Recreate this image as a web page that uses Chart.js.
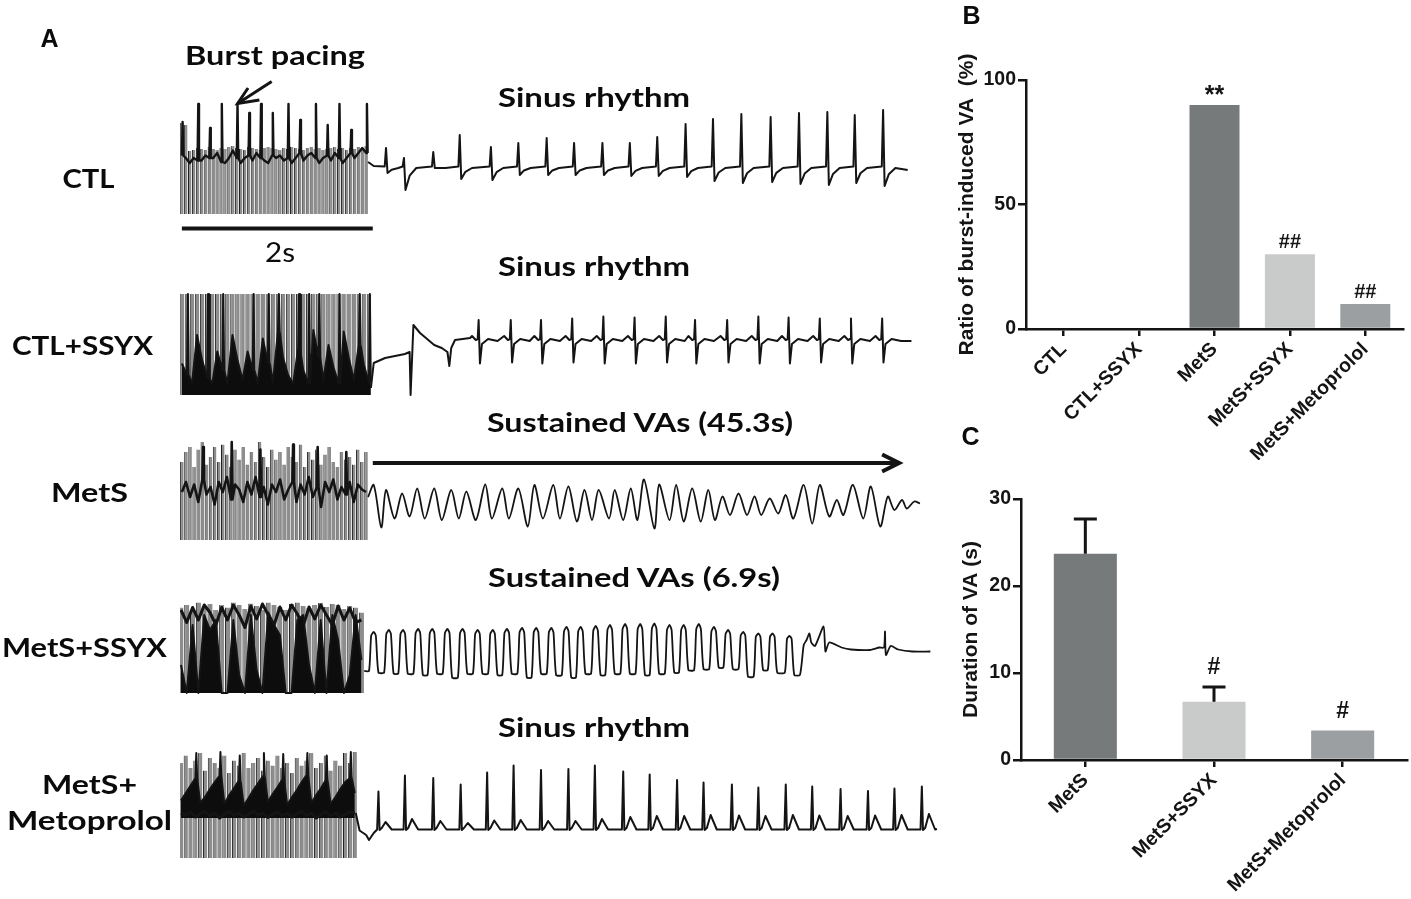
<!DOCTYPE html>
<html><head><meta charset="utf-8">
<script src="https://cdn.jsdelivr.net/npm/chart.js@4.4.1/dist/chart.umd.min.js"></script>
<style>
html,body{margin:0;padding:0;background:#fff;}
#wrap{position:relative;width:1411px;height:899px;overflow:hidden;background:#fff;}
canvas{position:absolute;}
svg{position:absolute;left:0;top:0;}
</style></head><body>
<div id="wrap">
<canvas id="a1"></canvas><canvas id="a2"></canvas><canvas id="a3"></canvas><canvas id="a4"></canvas><canvas id="a5"></canvas>
<canvas id="cb"></canvas><canvas id="cc"></canvas>
<svg id="txt" width="1411" height="899" xmlns="http://www.w3.org/2000/svg"></svg>
</div>
<script>
// ================= DATA =================
// Panel B
const bCats = ["CTL","CTL+SSYX","MetS","MetS+SSYX","MetS+Metoprolol"];
const bVals = [0,0,90,30,10];
const bSig  = ["","","**","##","##"];
// Panel C
const cCats = ["MetS","MetS+SSYX","MetS+Metoprolol"];
const cVals = [23.7,6.7,3.4];
const cErr  = [4.0,1.7,0];
const cSig  = ["","#","#"];

// Panel A: time in s, voltage in arbitrary mV (burst pacing = first 2 s)
// --- CTL ---
const ctlPace = {start:0.02, step:0.0415, bottom:-0.92};
const ctlPaceTops = [0.9,0.86,0.34,0.36,0.4,0.38,0.36,0.42,0.38,0.36,0.4,0.38,0.42,0.44,0.4,0.38,0.36,0.42,0.4,0.38,0.36,0.4,0.42,0.4,0.38,0.36,0.4,0.38,0.42,0.4,0.38,0.36,0.4,0.42,0.38,0.4,0.36,0.38,0.4,0.42,0.38,0.4,0.36,0.4,0.38,0.42,0.4,0.44];
const ctlBlockEcg = [0.25,0.2,0.1,0.2,0.15,0.15,0.25,0.2,0.2,0.3,0.12,0.1,0.2,0.35,0.2,0.1,0.2,0.25,0.15,0.3,0.2,0.15,0.1,0.25,0.2,0.25,0.15,0.2,0.1,0.2,0.3,0.15,0.25,0.3,0.2,0.1,0.2,0.25,0.15,0.3,0.2,0.1,0.2,0.3,0.2,0.3,0.4,0.3];
const ctlBlockSpikes = [[0,0.92],[4,1.28],[7,0.8],[10,1.28],[14,1.28],[17,1.1],[20,1.28],[23,1.1],[27,1.28],[30,0.96],[34,1.28],[37,0.86],[40,1.28],[43,0.76],[47,1.28]];
const ctlBeatT = [2.18,2.37,2.68,2.96,3.29,3.58,3.88,4.17,4.47,4.76,5.05,5.35,5.64,5.94,6.25,6.55,6.85,7.14,7.44];
const ctlBeatR = [0.4,0.2,0.32,0.66,0.42,0.5,0.6,0.5,0.5,0.5,0.62,0.88,0.98,1.08,1.02,1.1,1.12,1.06,1.16];
const ctlBeatS = [-0.1,-0.44,0.0,-0.22,-0.24,-0.14,-0.14,-0.14,-0.14,-0.16,-0.16,-0.18,-0.26,-0.3,-0.28,-0.32,-0.34,-0.3,-0.36];
const ctlEnd = [7.70,-0.04];

// --- CTL+SSYX ---
const cssPace = {start:0.02, step:0.0535, bottom:-1.1};
const cssPaceTops = [0.92,0.92,0.92,0.92,0.92,0.92,0.92,0.92,0.92,0.92,0.92,0.92,0.92,0.92,0.92,0.92,0.92,0.92,0.92,0.92,0.92,0.92,0.92,0.92,0.92,0.92,0.92,0.92,0.92,0.92,0.92,0.92,0.92,0.92,0.92,0.92,0.92,0.92];
const cssBlockEcg = [-0.47,-0.7,-0.87,0.1,-0.4,-0.75,-0.88,-0.23,-0.6,-0.87,0.1,-0.4,-0.8,-0.23,-0.6,-0.87,0.03,-0.45,-0.85,0.17,-0.35,-0.7,-0.88,-0.17,-0.6,-0.87,0.2,-0.35,-0.8,-0.1,-0.55,-0.87,0.17,-0.35,-0.8,-0.1,-0.5,-0.85];
const cssBlockSpikes = [[1,0.92],[5,0.92],[8,0.92],[14,0.92],[17,0.92],[19,0.92],[23,0.92],[25,0.92],[27,0.92],[31,0.92],[35,0.92],[37,0.92]];
const cssEarlyT = [2.02,2.05,2.17,2.38,2.43,2.44,2.47,2.54,2.69,2.77,2.83,2.85,2.87,2.91,3.07];
const cssEarlyV = [-0.96,-0.46,-0.36,-0.28,-0.24,-1.1,0.3,0.14,-0.1,-0.16,-0.24,-0.52,-0.16,0.0,0.04];
const cssBeatT = [3.16,3.50,3.82,4.15,4.48,4.81,5.14,5.45,5.79,6.12,6.44,6.77,7.10,7.43];
const cssBeatR = [0.4,0.4,0.4,0.43,0.47,0.45,0.47,0.4,0.4,0.47,0.45,0.43,0.43,0.43];
const cssBeatS = [-0.47,-0.45,-0.47,-0.45,-0.47,-0.47,-0.45,-0.47,-0.45,-0.47,-0.47,-0.45,-0.47,-0.45];
const cssEnd = [7.74,-0.02];

// --- MetS ---
const mtsPace = {start:0.02, step:0.0433, bottom:-0.66};
const mtsPaceTops = [0.9,1.1,1.2,0.8,1.15,1.3,0.85,1.0,1.2,0.9,1.25,1.05,0.8,1.15,0.95,1.2,0.85,1.1,0.9,1.3,1.0,0.8,1.15,0.95,1.1,0.85,1.2,1.0,0.9,1.25,0.8,1.1,0.95,1.15,0.85,1.05,1.2,0.9,0.8,1.1,0.95,1.0,0.85,1.15,0.9,1.1];
const mtsBlockEcg = [0.3,0.5,0.2,0.45,0.1,0.55,0.25,0.4,0.05,0.5,0.3,0.6,0.15,0.45,0.35,0.1,0.5,0.25,0.6,0.2,0.4,0.05,0.45,0.3,0.55,0.15,0.35,0.5,0.1,0.45,0.25,0.6,0.2,0.4,0.0,0.5,0.3,0.55,0.15,0.4,0.25,0.5,0.1,0.45,0.35,0.3];
const mtsBlockSpikes = [[5,1.2],[12,1.3],[19,1.15],[27,1.25],[33,1.2],[40,1.1]];
const mtsVaT = [1.99,2.05,2.13,2.18,2.27,2.35,2.43,2.51,2.59,2.69,2.77,2.87,2.95,3.03,3.13,3.23,3.30,3.41,3.48,3.58,3.68,3.75,3.84,3.95,4.02,4.11,4.20,4.28,4.36,4.43,4.54,4.60,4.69,4.77,4.84,4.91,5.02,5.07,5.18,5.25,5.33,5.42,5.51,5.59,5.66,5.74,5.82,5.91,6.00,6.08,6.15,6.24,6.33,6.41,6.49,6.60,6.69,6.77,6.87,6.95,7.02,7.12,7.23,7.31,7.41,7.49,7.56,7.64,7.69,7.77,7.83];
const mtsVaV = [0.20,0.44,-0.41,0.34,-0.23,0.27,-0.19,0.37,-0.23,0.37,-0.26,0.34,-0.23,0.31,-0.26,0.45,-0.23,0.37,-0.23,0.37,-0.39,0.44,-0.23,0.44,-0.23,0.41,-0.29,0.34,-0.26,0.34,-0.23,0.34,-0.26,0.37,-0.26,0.55,-0.43,0.45,-0.26,0.44,-0.29,0.37,-0.29,0.34,-0.26,0.21,-0.16,0.27,-0.16,0.21,-0.16,0.17,-0.13,0.24,-0.23,0.44,-0.33,0.44,-0.19,0.14,-0.16,0.44,-0.23,0.41,-0.39,0.21,-0.06,0.14,-0.03,0.11,0.07];
const vaArrowT = [2.04,7.61];   // "Sustained VAs" duration arrow (s)

// --- MetS+SSYX ---
const mssPace = {start:0.01, step:0.0616, bottom:-0.86};
const mssPaceTops = [0.85,0.9,0.8,0.95,0.88,0.92,0.8,0.9,0.85,0.95,0.9,0.82,0.93,0.88,0.8,0.95,0.9,0.86,0.8,0.92,0.95,0.88,0.84,0.9,0.94,0.86,0.92,0.9,0.82,0.88,0.85,0.75];
const mssBlockEcg = [-0.3,-0.86,0.5,-0.86,0.7,0.4,0.6,-0.86,-0.86,0.6,-0.5,-0.86,0.7,-0.4,-0.86,0.75,0.5,0.3,-0.86,-0.86,0.6,0.7,-0.3,-0.86,0.6,-0.86,0.7,0.2,-0.86,-0.5,0.7,-0.2];
const mssBlockTop = [0.8,0.55,0.85,0.6,0.9,0.75,0.5,0.85,0.6,0.9,0.7,0.45,0.88,0.62,0.92,0.7,0.5,0.86,0.6,0.9,0.72,0.48,0.86,0.62,0.9,0.7,0.5,0.88,0.6,0.84,0.55,0.6];
const mssStart = [1.95,-0.42];
const mssPeakT = [2.05,2.21,2.36,2.52,2.67,2.83,2.99,3.15,3.31,3.46,3.62,3.77,3.93,4.09,4.24,4.40,4.55,4.71,4.87,5.02,5.18,5.33,5.49,5.65,5.80,5.96,6.12,6.27,6.45];
const mssPeakV = [0.36,0.40,0.40,0.42,0.42,0.42,0.42,0.40,0.40,0.42,0.44,0.44,0.44,0.46,0.46,0.48,0.50,0.52,0.52,0.53,0.50,0.50,0.52,0.46,0.40,0.36,0.33,0.33,0.28];
const mssTroughV = [-0.45,-0.47,-0.47,-0.5,-0.47,-0.55,-0.47,-0.47,-0.5,-0.47,-0.55,-0.47,-0.5,-0.55,-0.47,-0.5,-0.47,-0.47,-0.5,-0.47,-0.45,-0.4,-0.38,-0.35,-0.38,-0.53,-0.4,-0.45,-0.5];
const mssTailT = [6.60,6.63,6.66,6.68,6.72,6.81,6.83,6.87,7.0,7.1,7.3,7.4,7.45,7.46,7.47,7.52,7.6,7.75,7.94];
const mssTailV = [0.1,0.2,0.33,0.15,0.08,0.47,-0.03,0.15,0.05,0.01,0.0,0.05,0.05,0.37,-0.1,0.08,0.01,-0.03,-0.03];

// --- MetS+Metoprolol ---
const metoPace = {start:0.01, step:0.0511, bottom:-0.6};
const metoPaceTops = [1.3,1.45,1.2,1.35,1.5,1.15,1.4,1.3,1.2,1.45,1.1,1.35,1.25,1.5,1.2,1.3,1.4,1.15,1.35,1.25,1.45,1.2,1.3,1.1,1.4,1.25,1.35,1.5,1.2,1.3,1.45,1.15,1.35,1.25,1.5,1.3,1.52];
const metoBlockEcg = [0.55,0.7,0.85,1.0,0.5,0.62,0.78,0.92,1.05,0.48,0.66,0.8,0.95,0.45,0.6,0.76,0.9,1.04,0.52,0.68,0.82,0.97,0.46,0.62,0.76,0.92,1.06,0.5,0.66,0.8,0.96,0.48,0.62,0.78,0.92,1.0,0.7];
const metoBlockLow = [0.3,0.26,0.32,0.22,0.28,0.34,0.24,0.3,0.2,0.28,0.33,0.25,0.3,0.22,0.27,0.34,0.26,0.3,0.21,0.28,0.32,0.24,0.3,0.22,0.28,0.34,0.25,0.3,0.2,0.27,0.33,0.24,0.3,0.22,0.28,0.32,0.3];
const metoBlockSpikes = [[3,1.5],[8,1.52],[12,1.45],[17,1.5],[21,1.48],[26,1.5],[30,1.45],[35,1.52]];
const metoEarlyT = [1.86,1.9,1.97,2.0,2.05];
const metoEarlyV = [0.3,-0.05,-0.14,-0.24,-0.1];
const metoBeatT = [2.10,2.38,2.68,2.97,3.25,3.53,3.82,4.11,4.39,4.69,4.97,5.26,5.54,5.84,6.12,6.41,6.69,6.99,7.28,7.56,7.85];
const metoBeatR = [0.73,1.05,1.0,0.87,1.11,1.25,1.16,1.18,1.25,1.13,1.07,0.96,0.91,0.87,0.81,0.87,0.83,0.78,0.74,0.79,0.83];
const metoBeatTw = [0.12,0.18,0.14,0.1,0.15,0.16,0.14,0.14,0.18,0.22,0.24,0.24,0.26,0.25,0.24,0.26,0.25,0.24,0.25,0.26,0.28];
const metoEnd = [8.01,-0.02];

const scaleBarT = [0.02,2.04];  // 2 s scale bar

// ================= HELPERS =================
Chart.defaults.font.family = "'Liberation Sans', Arial, sans-serif";
const INK = '#141414';
const X_MAX = 8.095;

function paceBars(p, tops){ return tops.map((v,i)=>({x:p.start+i*p.step, y:[p.bottom, v]})); }
function blockLine(p, base, spikes){
  const sp = new Map(spikes||[]); const pts=[];
  base.forEach((v,i)=>{ const t=p.start+i*p.step; pts.push({x:t,y:v});
    if(sp.has(i)){ pts.push({x:t+p.step*0.18,y:sp.get(i)}); pts.push({x:t+p.step*0.36,y:v}); } });
  return pts;
}
function zip(T,V){ return T.map((t,i)=>({x:t,y:V[i]})); }

function ctlRhythm(){
  const p=[{x:1.99,y:0.12},{x:2.05,y:0.04}];
  ctlBeatT.forEach((t,i)=>{ p.push({x:t-0.014,y:0.03}); p.push({x:t,y:ctlBeatR[i]}); p.push({x:t+0.016,y:ctlBeatS[i]}); p.push({x:t+0.06,y:ctlBeatS[i]*0.35}); p.push({x:t+0.13,y:0.0}); });
  p.push({x:ctlEnd[0],y:ctlEnd[1]}); return p;
}
function cssRhythm(){
  const p=zip(cssEarlyT,cssEarlyV);
  cssBeatT.forEach((t,i)=>{ p.push({x:t-0.07,y:0.08}); p.push({x:t-0.03,y:0.0}); p.push({x:t-0.01,y:0.02}); p.push({x:t,y:cssBeatR[i]}); p.push({x:t+0.014,y:cssBeatS[i]}); p.push({x:t+0.035,y:-0.08}); p.push({x:t+0.1,y:0.02}); p.push({x:t+0.2,y:-0.02}); });
  p.push({x:cssEnd[0],y:cssEnd[1]}); return p;
}
function mssRhythm(){
  const p=[{x:mssStart[0],y:mssStart[1]}];
  mssPeakT.forEach((t,i)=>{ const prev = i? mssTroughV[i-1] : mssStart[1];
    p.push({x:t-0.05,y:prev}); p.push({x:t-0.027,y:mssPeakV[i]*0.8}); p.push({x:t,y:mssPeakV[i]}); p.push({x:t+0.022,y:mssPeakV[i]*0.8}); p.push({x:t+0.05,y:mssTroughV[i]}); });
  p.push({x:mssPeakT[mssPeakT.length-1]+0.11,y:mssTroughV[mssTroughV.length-1]});
  return p.concat(zip(mssTailT,mssTailV));
}
function metoRhythm(){
  const p=zip(metoEarlyT,metoEarlyV);
  metoBeatT.forEach((t,i)=>{ p.push({x:t-0.014,y:-0.03}); p.push({x:t,y:metoBeatR[i]}); p.push({x:t+0.012,y:-0.04}); p.push({x:t+0.035,y:0.0}); p.push({x:t+0.075,y:metoBeatTw[i]}); p.push({x:t+0.14,y:-0.03}); });
  p.push({x:metoEnd[0],y:metoEnd[1]}); return p;
}

function barDs(data){ return {type:'bar', data, backgroundColor:'#8d8d8d', borderColor:'#202020', borderWidth:{left:1,right:0,top:0,bottom:0}, borderSkipped:false, barPercentage:0.88, categoryPercentage:1, grouped:false, order:5}; }
function lineDs(data, o){ return Object.assign({type:'line', data, borderColor:INK, borderWidth:2, pointRadius:0, tension:0, fill:false, order:1, borderJoinStyle:'round'}, o||{}); }

function traceChart(id, top, height, ymin, ymax, datasets){
  const el=document.getElementById(id);
  el.width=765; el.height=height; el.style.left='180px'; el.style.top=top+'px'; el.style.width='765px'; el.style.height=height+'px';
  return new Chart(el,{type:'bar', data:{datasets},
    options:{responsive:false, animation:false, events:[], layout:{padding:0},
      plugins:{legend:{display:false}, tooltip:{enabled:false}},
      scales:{x:{type:'linear', min:0, max:X_MAX, display:false, offset:false},
              y:{type:'linear', min:ymin, max:ymax, display:false, beginAtZero:false}}}});
}

// ---- Panel A traces ----
traceChart('a1', 75, 160, -1.34, 1.86, [
  barDs(paceBars(ctlPace, ctlPaceTops)),
  lineDs(blockLine(ctlPace, ctlBlockEcg, ctlBlockSpikes), {order:2, borderWidth:2.4}),
  lineDs(ctlRhythm()),
  lineDs([{x:scaleBarT[0],y:-1.21},{x:scaleBarT[1],y:-1.21}], {borderWidth:4, borderJoinStyle:'miter'}),
  lineDs([{x:0.97,y:1.73},{x:0.61,y:1.29}], {borderWidth:3}),
  lineDs([{x:0.72,y:1.6},{x:0.61,y:1.29},{x:0.84,y:1.36}], {borderWidth:3, borderJoinStyle:'miter'})
]);
traceChart('a2', 288, 112, -1.2, 1.04, [
  barDs(paceBars(cssPace, cssPaceTops)),
  lineDs(blockLine(cssPace, cssBlockEcg, cssBlockSpikes), {order:2, fill:{value:cssPace.bottom}, backgroundColor:'#0d0d0d'}),
  lineDs(cssRhythm())
]);
traceChart('a3', 437, 108, -0.76, 1.4, [
  barDs(paceBars(mtsPace, mtsPaceTops)),
  lineDs(blockLine(mtsPace, mtsBlockEcg, mtsBlockSpikes), {order:2, borderWidth:2.6}),
  lineDs(zip(mtsVaT, mtsVaV), {tension:0.3, borderWidth:1.8}),
  lineDs([{x:vaArrowT[0],y:0.88},{x:vaArrowT[1],y:0.88}], {borderWidth:4}),
  lineDs([{x:vaArrowT[1]-0.18,y:1.05},{x:vaArrowT[1],y:0.88},{x:vaArrowT[1]-0.18,y:0.71}], {borderWidth:4, borderJoinStyle:'miter'})
]);
traceChart('a4', 592, 106, -0.96, 1.16, [
  barDs(paceBars(mssPace, mssPaceTops)),
  lineDs(blockLine(mssPace, mssBlockEcg, []), {order:2, fill:{value:mssPace.bottom}, backgroundColor:'#0d0d0d'}),
  lineDs(blockLine(mssPace, mssBlockTop, []), {order:2, borderWidth:3}),
  lineDs(mssRhythm(), {tension:0.2, borderWidth:1.8})
]);
traceChart('a5', 745, 120, -0.74, 1.66, [
  barDs(paceBars(metoPace, metoPaceTops)),
  lineDs(blockLine(metoPace, metoBlockEcg, metoBlockSpikes), {order:3, fill:{value:0.2}, backgroundColor:'#0d0d0d'}),
  lineDs(blockLine(metoPace, metoBlockLow, []), {order:2, borderWidth:3}),
  lineDs(metoRhythm())
]);

// ---- Panels B & C ----
const annot = {id:'annot', afterDatasetsDraw(chart, args, o){
  const ctx=chart.ctx, meta=chart.getDatasetMeta(0), ys=chart.scales.y;
  ctx.save();
  (o.err||[]).forEach((e,i)=>{ if(!e) return; const x=meta.data[i].x;
    const y0=ys.getPixelForValue(o.vals[i]), y1=ys.getPixelForValue(o.vals[i]+e);
    ctx.strokeStyle=INK; ctx.lineWidth=3; ctx.lineCap='butt'; ctx.beginPath();
    ctx.moveTo(x,y0); ctx.lineTo(x,y1); ctx.moveTo(x-o.cap/2,y1); ctx.lineTo(x+o.cap/2,y1); ctx.stroke(); });
  ctx.fillStyle=INK; ctx.textAlign='center'; ctx.textBaseline='alphabetic';
  o.sig.forEach((s,i)=>{ if(!s) return; const x=meta.data[i].x;
    const top=ys.getPixelForValue(o.vals[i]+((o.err||[])[i]||0));
    const star=s.indexOf('*')>=0;
    ctx.font='bold '+(star?o.starSize:o.sigSize)+"px 'Liberation Sans', Arial, sans-serif";
    ctx.fillText(s, x, top-(star?o.starGap:o.sigGap)); });
  ctx.restore(); }};

function barPanel(id, left, top, w, h, cats, vals, colors, o){
  const el=document.getElementById(id);
  el.width=w; el.height=h; el.style.left=left+'px'; el.style.top=top+'px'; el.style.width=w+'px'; el.style.height=h+'px';
  return new Chart(el,{type:'bar',
    data:{labels:cats, datasets:[{data:vals, backgroundColor:colors, borderWidth:0, barPercentage:o.barPct, categoryPercentage:1}]},
    options:{responsive:false, animation:false, events:[],
      layout:{padding:{top:o.padTop, left:0, right:o.padRight, bottom:0}},
      plugins:{legend:{display:false}, tooltip:{enabled:false}, annot:o.annot},
      scales:{
        x:{offset:true, grid:{display:true, offset:false, drawOnChartArea:false, drawTicks:true, tickLength:7, color:INK, lineWidth:2.5},
           border:{display:true, color:INK, width:2.5},
           ticks:{color:INK, font:{size:19.5, weight:'bold'}, minRotation:45, maxRotation:45, padding:2, autoSkip:false},
           afterFit:s=>{s.height=o.xH;}},
        y:{min:0, max:o.ymax, grid:{display:true, drawOnChartArea:false, drawTicks:true, tickLength:8, color:INK, lineWidth:2.5},
           border:{display:true, color:INK, width:2.5},
           ticks:{stepSize:o.step, color:INK, font:{size:19.5, weight:'bold'}, padding:2},
           title:{display:true, text:o.title, color:INK, font:{size:21, weight:'bold'}, padding:{top:o.titlePad, bottom:0}},
           afterFit:s=>{s.width=o.yW;}}}},
    plugins:[annot]});
}
const gDark='#767a7a', gLight='#c9cbcb', gMid='#9c9fa1';
barPanel('cb', 940, 0, 471, 460, bCats, bVals, [gDark,gLight,gDark,gLight,gMid],
  {barPct:0.663, padTop:80, padRight:8, xH:131, yW:86, ymax:100, step:50, title:'Ratio of burst-induced VA  (%)', titlePad:15,
   annot:{vals:bVals, sig:bSig, sigSize:20, sigGap:6.5, starSize:25, starGap:1.5}});
barPanel('cc', 940, 420, 471, 479, cCats, cVals, [gDark,gLight,gMid],
  {barPct:0.49, padTop:79, padRight:4, xH:139, yW:81, ymax:30, step:10, title:'Duration of VA (s)', titlePad:19,
   annot:{vals:cVals, err:cErr, cap:23, sig:cSig, sigSize:23, sigGap:12.5, starSize:23, starGap:12.5}});

// ---- Text labels (real SVG text) ----
const NS='http://www.w3.org/2000/svg';
const svg=document.getElementById('txt');
const calib="Lato, 'Open Sans', sans-serif";
const arial="'Liberation Sans', Arial, sans-serif";
const texts=[
  {t:'A', x:40.5, y:46.5, fs:25, f:arial, anchor:'start'},
  {t:'B', x:962.5, y:23.5, fs:25, f:arial, anchor:'start'},
  {t:'C', x:961.5, y:445, fs:25, f:arial, anchor:'start'},
  {t:'Burst pacing', x:275, y:65, w:180, fs:26},
  {t:'Sinus rhythm', x:594, y:107.3, w:192, fs:27},
  {t:'CTL', x:88.5, y:188, w:52, fs:26},
  {t:'2s', x:280, y:262, w:30, fs:26, wt:'normal'},
  {t:'Sinus rhythm', x:594, y:276.3, w:192, fs:27},
  {t:'CTL+SSYX', x:82.5, y:355, w:141, fs:26},
  {t:'Sustained VAs (45.3s)', x:640, y:431.7, w:306, fs:27},
  {t:'MetS', x:89.5, y:502, w:77, fs:26},
  {t:'Sustained VAs (6.9s)', x:634, y:587, w:292, fs:27},
  {t:'MetS+SSYX', x:84.5, y:657, w:165, fs:26},
  {t:'Sinus rhythm', x:594, y:737.3, w:192, fs:27},
  {t:'MetS+', x:89.5, y:794, w:95, fs:26},
  {t:'Metoprolol', x:89.5, y:830, w:165, fs:26}
];
texts.forEach(d=>{
  const e=document.createElementNS(NS,'text');
  e.setAttribute('x',d.x); e.setAttribute('y',d.y);
  e.setAttribute('text-anchor', d.anchor||'middle');
  e.setAttribute('font-family', d.f||calib); e.setAttribute('font-weight', d.wt||'bold'); e.setAttribute('font-size',d.fs);
  e.setAttribute('fill','#0b0b0b');
  if(d.w){ e.setAttribute('textLength',d.w); e.setAttribute('lengthAdjust','spacingAndGlyphs'); }
  e.textContent=d.t; svg.appendChild(e);
});
</script>
</body></html>
